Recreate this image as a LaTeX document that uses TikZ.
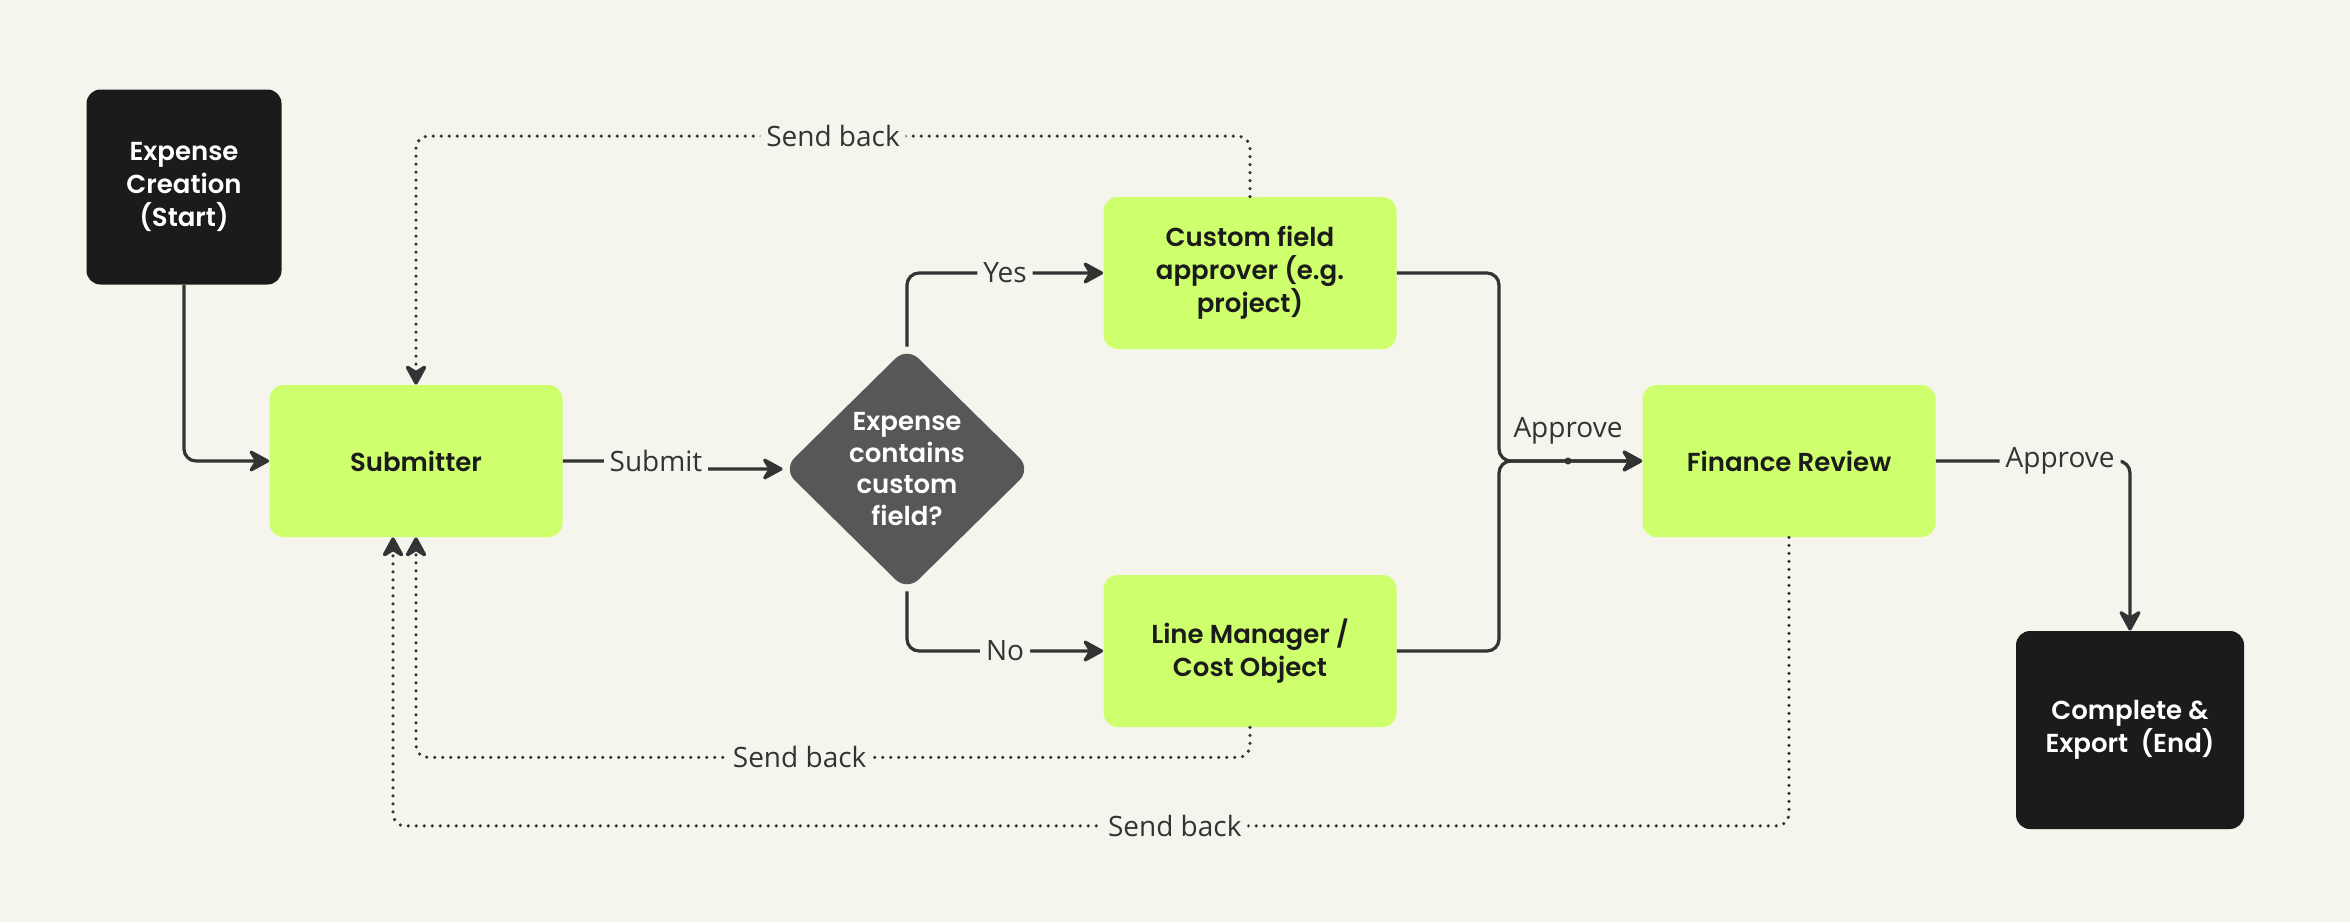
\documentclass[tikz,border=0pt]{standalone}
\usepackage{fontspec}
\setmainfont{Open Sans}
\newfontfamily\nodefont{Poppins SemiBold}
\usetikzlibrary{shapes.geometric,arrows.meta}
\definecolor{bg}{HTML}{F5F5EE}
\definecolor{lime}{HTML}{CEFF6C}
\definecolor{ink}{HTML}{1B1B1B}
\definecolor{dgray}{HTML}{575757}
\definecolor{linec}{HTML}{333333}
\begin{document}
\begin{tikzpicture}[x=0.5pt,y=-0.5pt,
  greenbox/.style={rectangle, rounded corners=7pt, fill=lime, text=ink,
    minimum width=146.5pt, minimum height=76pt, inner sep=0pt, align=center,
    font=\nodefont\fontsize{13}{16.5}\selectfont},
  blackbox/.style={greenbox, fill=ink, text=white},
  decision/.style={diamond, fill=dgray, text=white, rounded corners=8pt,
    minimum width=124pt, minimum height=122pt, inner sep=0pt, align=center,
    font=\nodefont\fontsize{13}{15.7}\selectfont},
  tip/.style={-{Stealth[length=12pt,width=13pt,inset=4pt,round]}},
  flow/.style={draw=linec, line width=1.6pt, rounded corners=6pt, tip},
  back/.style={draw=linec, line width=1.8pt, line cap=round,
    dash pattern=on 0pt off 4pt, rounded corners=6pt, tip},
  lbl/.style={fill=bg, text=linec, inner sep=3pt,
    font=\fontsize{14}{16}\selectfont}]
\fill[bg] (0,0) rectangle (2350,922);
\useasboundingbox (0,0) rectangle (2350,922);

% nodes
\node[blackbox, minimum width=97.5pt, minimum height=97.5pt] (start) at (184,187) {Expense\\Creation\\(Start)};
\node[greenbox] (sub) at (416,461) {Submitter};
\node[decision] (dia) at (907,469) {Expense\\contains\\custom\\field?};
\node[greenbox] (cf) at (1250,273) {Custom field\\approver (e.g.\\project)};
\node[greenbox] (lm) at (1250,651) {Line Manager /\\Cost Object};
\node[greenbox] (fin) at (1789,461) {Finance Review};
\node[blackbox, minimum width=114pt, minimum height=99pt] (end) at (2130,730) {Complete \&\\Export~ (End)};

% helper coordinates
\coordinate (sj) at (656,461);
\coordinate (mj) at (1499,461);
\coordinate (fb) at ([xshift=-11.5pt]sub.south);

% solid connectors
\draw[flow] (start.south) |- (sub.west);
\draw[flow] (sub.east) -- (sj) |- (dia.west);
\node[lbl] (submitl) at (sj) {Submit};
\draw[flow] (dia.north) |- node[lbl, pos=0.75] (yesl) {Yes} (cf.west);
\draw[flow] (dia.south) |- node[lbl, pos=0.75] (nol) {No} (lm.west);
\draw[flow] (cf.east) -| (mj) -- (fin.west);
\draw[flow] (lm.east) -| (mj) -- (fin.west);
\node[circle, fill=linec, inner sep=0pt, minimum size=3.5pt] (dot) at (1568,461) {};
\node[text=linec, inner sep=0pt, font=\fontsize{14}{16}\selectfont] (ap1) at (1568,431) {Approve};
\draw[flow] (fin.east) -| node[lbl, pos=0.32] (ap2) {Approve} (end.north);

% send back connectors
\draw[back] (cf.north) -- ++(0,-60.5) -| node[lbl, pos=0.25] (sb1) {Send back} (sub.north);
\draw[back] (lm.south) -- ++(0,30) -| node[lbl, pos=0.27] (sb2) {Send back} (sub.south);
\draw[back] (fin.south) -- ++(0,288.5) -| node[lbl, pos=0.22] (sb3) {Send back} (fb);
\end{tikzpicture}
\end{document}
